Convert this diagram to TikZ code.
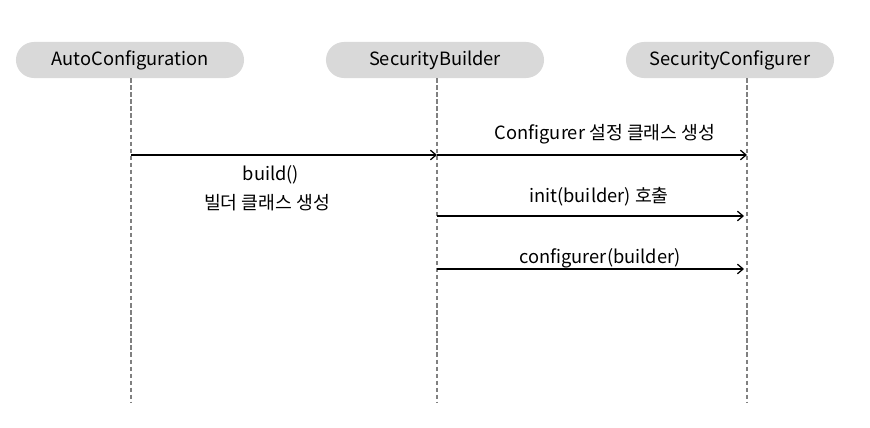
\documentclass[tikz,border=0pt]{standalone}
\usepackage{fontspec}
\setmainfont{Noto Sans CJK KR}
\usetikzlibrary{arrows.meta}

\begin{document}
\begin{tikzpicture}[
    x=0.025cm, y=-0.025cm,
    actor/.style={rounded corners=0.45cm, fill=gray!30, minimum height=0.9cm, inner sep=0pt, font=\fontsize{13}{15}\selectfont},
    lifeline/.style={draw=gray, line width=1pt, dash pattern=on 3pt off 2pt},
    msg/.style={-{Straight Barb[length=1.4mm,width=2.4mm]}, line width=0.9pt},
    msglabel/.style={inner sep=1pt, font=\fontsize{13}{15}\selectfont}
]
    \useasboundingbox (0,0) rectangle (870,428);

    % participants
    \node[actor, minimum width=5.7cm]  (auto)    at (130,60) {AutoConfiguration};
    \node[actor, minimum width=5.45cm] (builder) at (435,60) {SecurityBuilder};
    \node[actor, minimum width=5.2cm]  (conf)    at (730,60) {SecurityConfigurer};

    % lifelines
    \coordinate (autoEnd)    at (131,403);
    \coordinate (builderEnd) at (437,403);
    \coordinate (confEnd)    at (747,403);
    \draw[lifeline] (auto.south -| autoEnd) -- (autoEnd);
    \draw[lifeline] (builder.south -| builderEnd) -- (builderEnd);
    \draw[lifeline] (conf.south -| confEnd) -- (confEnd);

    % message ends
    \coordinate (m1a) at (131,155);
    \coordinate (m1b) at (437,155);
    \coordinate (m2a) at (437,155);
    \coordinate (m2b) at (747,155);
    \coordinate (m3a) at (437,216);
    \coordinate (m3b) at (744,216);
    \coordinate (m4a) at (437,269);
    \coordinate (m4b) at (744,269);

    \draw[msg] (m1a) -- (m1b);
    \draw[msg] (m2a) -- (m2b);
    \draw[msg] (m3a) -- (m3b);
    \draw[msg] (m4a) -- (m4b);

    % labels
    \node[msglabel] (lblBuild)   at (271,175) {build()};
    \node[msglabel] (lblBuildKr) at (267,203) {빌더 클래스 생성};
    \node[msglabel] (lblConf)    at (605,134) {Configurer 설정 클래스 생성};
    \node[msglabel] (lblInit)    at (599,197) {init(builder) 호출};
    \node[msglabel] (lblCfg)     at (600,258) {configurer(builder)};
\end{tikzpicture}
\end{document}
